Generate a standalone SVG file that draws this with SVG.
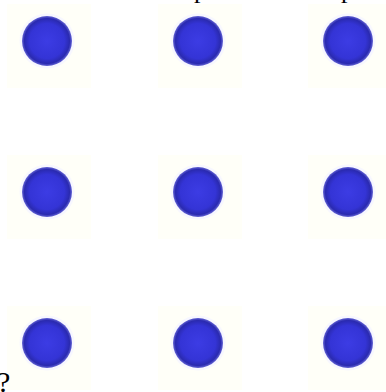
<svg xmlns="http://www.w3.org/2000/svg" width="386" height="392" viewBox="0 0 386 392">
  <style>
    .tile { fill: #fffff8; }
    .halo { fill: #f7f7ff; }
    .dot { fill: url(#dotGrad); }
    .lbl { font-family: "Liberation Serif", "Times New Roman", serif; fill: #000; }
  </style>
  <defs>
    <radialGradient id="dotGrad" cx="50%" cy="50%" r="50%">
      <stop offset="0" stop-color="#3c3ce4"/>
      <stop offset="0.7" stop-color="#3434d6"/>
      <stop offset="0.9" stop-color="#2a2ab0"/>
      <stop offset="1" stop-color="#6464d4"/>
    </radialGradient>
    <g id="cell">
      <rect class="tile" x="-40" y="-37" width="84" height="84"/>
      <circle class="halo" cx="0" cy="0" r="27.5"/>
      <circle class="dot" cx="0" cy="0" r="25"/>
    </g>
  </defs>
  <rect width="386" height="392" fill="#ffffff"/>
  <g id="dot-1-1"><use href="#cell" x="47" y="41"/></g>
  <g id="dot-1-2"><use href="#cell" x="198" y="41"/></g>
  <g id="dot-1-3"><use href="#cell" x="348" y="41"/></g>
  <g id="dot-2-1"><use href="#cell" x="47" y="192"/></g>
  <g id="dot-2-2"><use href="#cell" x="198" y="192"/></g>
  <g id="dot-2-3"><use href="#cell" x="348" y="192"/></g>
  <g id="dot-3-1"><use href="#cell" x="47" y="343"/></g>
  <g id="dot-3-2"><use href="#cell" x="198" y="343"/></g>
  <g id="dot-3-3"><use href="#cell" x="348" y="343"/></g>
  <g id="connectors"></g>
  <text class="lbl" x="194" y="-2" font-size="26">p</text>
  <text class="lbl" x="341" y="-2" font-size="26">p</text>
  <text class="lbl" x="-3" y="392" font-size="30">?</text>
</svg>
